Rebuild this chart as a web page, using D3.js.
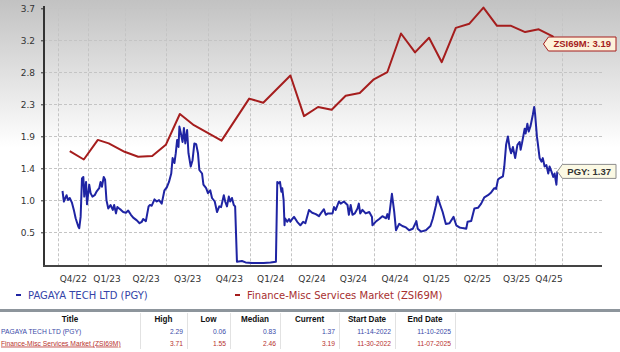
<!DOCTYPE html>
<html>
<head>
<meta charset="utf-8">
<script src="https://cdn.jsdelivr.net/npm/d3@7"></script>
<style>
  body { margin: 0; background: #fff; }
  svg  { display: block; font-family: "DejaVu Sans", Verdana, sans-serif; }
</style>
</head>
<body>
<svg width="620" height="352"></svg>
<script>
// PGY daily closes
const pgyPoints = [
  ["2022-11-14",1.09],["2022-11-17",0.94],["2022-11-23",1.03],["2022-11-26",0.96],["2022-11-30",0.99],
  ["2022-12-05",0.92],["2022-12-09",0.82],["2022-12-13",0.70],["2022-12-19",0.58],["2022-12-21",0.56],
  ["2022-12-24",0.72],["2022-12-27",1.27],["2022-12-30",1.29],["2023-01-01",1.01],["2023-01-05",1.22],
  ["2023-01-07",0.90],["2023-01-12",1.18],["2023-01-15",1.06],["2023-01-19",1.01],["2023-01-24",1.03],
  ["2023-01-28",1.08],["2023-02-03",1.13],["2023-02-06",1.22],["2023-02-09",1.15],["2023-02-13",1.29],
  ["2023-02-16",1.25],["2023-02-19",0.96],["2023-02-23",0.84],["2023-02-28",0.89],["2023-03-05",0.82],
  ["2023-03-08",0.89],["2023-03-12",0.77],["2023-03-15",0.86],["2023-03-19",0.84],["2023-03-23",0.82],
  ["2023-03-28",0.79],["2023-04-03",0.78],["2023-04-08",0.81],["2023-04-14",0.75],["2023-04-19",0.71],
  ["2023-04-27",0.67],["2023-05-03",0.63],["2023-05-08",0.65],["2023-05-11",0.69],["2023-05-17",0.66],
  ["2023-05-23",0.87],["2023-05-26",0.89],["2023-05-30",0.88],["2023-06-05",0.97],["2023-06-10",0.94],
  ["2023-06-15",0.96],["2023-06-21",0.91],["2023-06-27",1.10],["2023-07-02",1.14],["2023-07-07",1.22],
  ["2023-07-12",1.34],["2023-07-15",1.56],["2023-07-19",1.49],["2023-07-22",1.63],["2023-07-25",1.82],
  ["2023-07-28",1.72],["2023-07-30",2.01],["2023-08-03",1.89],["2023-08-06",1.79],["2023-08-09",1.99],
  ["2023-08-12",1.77],["2023-08-16",1.96],["2023-08-19",1.63],["2023-08-24",1.44],["2023-08-28",1.53],
  ["2023-09-01",1.77],["2023-09-05",1.76],["2023-09-09",1.63],["2023-09-12",1.39],["2023-09-18",1.34],
  ["2023-09-21",1.18],["2023-09-27",1.13],["2023-10-01",1.06],["2023-10-06",1.10],["2023-10-10",0.99],
  ["2023-10-16",0.94],["2023-10-21",0.79],["2023-10-26",0.87],["2023-10-30",0.86],["2023-11-05",1.03],
  ["2023-11-08",0.94],["2023-11-12",0.87],["2023-11-16",1.01],["2023-11-19",0.94],["2023-11-23",0.99],
  ["2023-11-27",0.89],["2023-11-30",0.87],["2023-12-04",0.08],["2023-12-15",0.09],["2023-12-23",0.07],
  ["2024-01-06",0.06],["2024-01-18",0.06],["2024-02-01",0.06],["2024-02-16",0.07],["2024-02-28",0.08],
  ["2024-03-02",1.22],["2024-03-05",1.20],["2024-03-08",1.22],["2024-03-11",1.08],["2024-03-13",1.13],
  ["2024-03-16",0.96],["2024-03-18",0.60],["2024-03-19",0.70],["2024-03-24",0.65],["2024-03-28",0.69],
  ["2024-03-31",0.65],["2024-04-04",0.69],["2024-04-08",0.72],["2024-04-15",0.65],["2024-04-22",0.60],
  ["2024-04-28",0.65],["2024-05-03",0.63],["2024-05-11",0.82],["2024-05-18",0.78],["2024-05-26",0.76],
  ["2024-06-02",0.73],["2024-06-06",0.77],["2024-06-13",0.83],["2024-06-17",0.75],["2024-06-22",0.77],
  ["2024-07-02",0.77],["2024-07-05",0.86],["2024-07-09",0.82],["2024-07-16",0.94],["2024-07-20",0.91],
  ["2024-07-27",0.94],["2024-08-04",0.89],["2024-08-07",0.75],["2024-08-11",0.89],["2024-08-15",0.75],
  ["2024-08-20",0.77],["2024-08-26",0.84],["2024-08-29",0.91],["2024-09-01",0.77],["2024-09-06",0.82],
  ["2024-09-13",0.77],["2024-09-21",0.79],["2024-09-27",0.72],["2024-09-28",0.60],["2024-10-05",0.65],
  ["2024-10-13",0.69],["2024-10-20",0.73],["2024-10-28",0.70],["2024-10-31",0.76],["2024-11-03",0.69],
  ["2024-11-10",1.05],["2024-11-15",0.80],["2024-11-19",0.53],["2024-11-26",0.62],["2024-12-03",0.59],
  ["2024-12-11",0.57],["2024-12-18",0.53],["2024-12-26",0.55],["2025-01-03",0.66],["2025-01-06",0.55],
  ["2025-01-13",0.51],["2025-01-24",0.53],["2025-02-03",0.59],["2025-02-08",0.69],["2025-02-11",0.77],
  ["2025-02-15",0.88],["2025-02-19",1.01],["2025-02-23",0.92],["2025-03-02",0.79],["2025-03-09",0.62],
  ["2025-03-17",0.63],["2025-03-26",0.72],["2025-04-01",0.60],["2025-04-08",0.57],["2025-04-15",0.56],
  ["2025-04-23",0.55],["2025-04-26",0.65],["2025-05-04",0.66],["2025-05-11",0.84],["2025-05-19",0.85],
  ["2025-05-26",0.91],["2025-06-02",1.00],["2025-06-10",1.03],["2025-06-17",1.07],["2025-06-24",1.13],
  ["2025-06-28",1.12],["2025-07-02",1.25],["2025-07-05",1.27],["2025-07-13",1.30],["2025-07-16",1.44],
  ["2025-07-20",1.75],["2025-07-24",1.87],["2025-07-28",1.70],["2025-07-31",1.63],["2025-08-04",1.72],
  ["2025-08-09",1.56],["2025-08-14",1.75],["2025-08-19",1.79],["2025-08-21",1.68],["2025-08-24",1.77],
  ["2025-08-30",1.98],["2025-09-01",1.91],["2025-09-05",2.05],["2025-09-08",1.94],["2025-09-12",2.02],
  ["2025-09-17",2.18],["2025-09-20",2.29],["2025-09-22",2.19],["2025-09-26",1.87],["2025-09-28",1.77],
  ["2025-10-02",1.56],["2025-10-06",1.51],["2025-10-09",1.56],["2025-10-13",1.44],["2025-10-17",1.46],
  ["2025-10-21",1.34],["2025-10-24",1.44],["2025-10-28",1.37],["2025-11-01",1.29],["2025-11-04",1.34],
  ["2025-11-08",1.18],["2025-11-10",1.37]
];

// ZSI69M monthly values
const zsiPoints = [
  ["2022-11-30",1.66],["2022-12-31",1.54],["2023-01-31",1.82],["2023-02-24",1.77],["2023-03-31",1.65],
  ["2023-04-30",1.58],["2023-05-31",1.59],["2023-06-30",1.75],["2023-07-31",2.19],["2023-08-31",2.03],
  ["2023-10-31",1.81],["2023-12-31",2.41],["2024-01-31",2.35],["2024-03-31",2.74],["2024-04-30",2.16],
  ["2024-05-31",2.29],["2024-06-30",2.25],["2024-07-31",2.45],["2024-08-31",2.49],["2024-09-30",2.68],
  ["2024-10-31",2.79],["2024-11-30",3.34],["2024-12-31",3.07],["2025-01-31",3.28],["2025-02-28",2.93],
  ["2025-03-31",3.42],["2025-04-30",3.48],["2025-05-31",3.71],["2025-06-30",3.45],["2025-07-31",3.45],
  ["2025-08-31",3.36],["2025-09-30",3.40],["2025-10-31",3.30],["2025-11-07",3.19]
];

const yTicks        = [0.5, 0.9571, 1.4143, 1.8714, 2.3286, 2.7857, 3.2429, 3.7];
const quarterLines  = ["2022-11-04","2023-01-09","2023-04-01","2023-07-01","2023-10-01","2024-01-01","2024-04-01",
                       "2024-07-01","2024-10-01","2025-01-01","2025-04-01","2025-07-01","2025-09-21","2025-11-21"];
const quarterLabels = ["Q4/22","Q1/23","Q2/23","Q3/23","Q4/23","Q1/24","Q2/24","Q3/24","Q4/24","Q1/25","Q2/25","Q3/25","Q4/25"];

const seriesNames = ["PAGAYA TECH LTD (PGY)", "Finance-Misc Services Market (ZSI69M)"];
const tagNames    = ["PGY", "ZSI69M"];

const tableHeaders = ["Title","High","Low","Median","Current","Start Date","End Date"];
const tableRows = [
  ["PAGAYA TECH LTD (PGY)","2.29","0.06","0.83","1.37","11-14-2022","11-10-2025"],
  ["Finance-Misc Services Market (ZSI69M)","3.71","1.55","2.46","3.19","11-30-2022","11-07-2025"]
];

const BLUE = "#1f24a3", RED = "#a51d1d";
const M = {left: 44, right: 602, top: 6, bottom: 266};

const svg   = d3.select("svg");
const parse = d3.timeParse("%Y-%m-%d");
const pgy = pgyPoints.map(p => ({date: parse(p[0]), value: p[1]}));
const zsi = zsiPoints.map(p => ({date: parse(p[0]), value: p[1]}));

const x = d3.scaleTime()
  .domain([parse("2022-11-14"), parse("2025-11-10")])
  .range([62.5, 557.3]);
const y = d3.scaleLinear()
  .domain([0.0186, 3.7329])
  .range([M.bottom, M.top]);

drawBackground();
drawGrid();
drawAxes();
drawLines();
drawTag(tagNames[1], zsi[zsi.length-1].value, RED, "#fdf2da", RED);
drawTag(tagNames[0], pgy[pgy.length-1].value, "#333", "#fbf9e4", "#8c8c8c");
drawLegend();
drawTable();

function drawBackground() {
  const grad = svg.append("defs").append("linearGradient")
    .attr("id", "bg").attr("x1", 0).attr("y1", 0).attr("x2", 0).attr("y2", 1);
  grad.append("stop").attr("offset", "0%").attr("stop-color", "#c2c2c2");
  grad.append("stop").attr("offset", "55%").attr("stop-color", "#ffffff");
  svg.append("rect").attr("width", 620).attr("height", 268).attr("fill", "url(#bg)");
}

function drawGrid() {
  const g = svg.append("g")
    .attr("stroke", "#c4c4c4").attr("stroke-dasharray", "3,2").attr("stroke-width", 1);
  g.selectAll("line.h").data(yTicks).join("line").attr("class", "h")
    .attr("x1", M.left).attr("x2", M.right)
    .attr("y1", d => Math.round(y(d)) + 0.5).attr("y2", d => Math.round(y(d)) + 0.5);
  g.selectAll("line.v").data(quarterLines).join("line").attr("class", "v")
    .attr("x1", d => Math.round(x(parse(d))) + 0.5).attr("x2", d => Math.round(x(parse(d))) + 0.5)
    .attr("y1", y(3.7)).attr("y2", M.bottom);
}

function drawAxes() {
  const yAxis = d3.axisLeft(y).tickValues(yTicks).tickFormat(d3.format(".1f"))
    .tickSize(3).tickPadding(6);
  const gy = svg.append("g").attr("transform", `translate(${M.left},0)`).call(yAxis);
  gy.select(".domain").remove();
  gy.selectAll("line").attr("stroke", "#333");
  gy.selectAll("text").attr("font-size", 9).attr("fill", "#333")
    .attr("font-family", "DejaVu Sans, Verdana, sans-serif");

  // quarter labels sit in the middle of each grid interval
  const mids = quarterLabels.map((q, i) =>
    new Date((parse(quarterLines[i]).getTime() + parse(quarterLines[i+1]).getTime()) / 2));
  const xAxis = d3.axisBottom(x).tickValues(mids).tickFormat((d, i) => quarterLabels[i])
    .tickSize(0).tickPadding(10);
  const gx = svg.append("g").attr("transform", `translate(0,${M.bottom})`).call(xAxis);
  gx.select(".domain").remove();
  gx.selectAll("text").attr("font-size", 9).attr("fill", "#333")
    .attr("font-family", "DejaVu Sans, Verdana, sans-serif");

  svg.append("line").attr("x1", M.left).attr("x2", M.left).attr("y1", M.top).attr("y2", M.bottom + 1)
    .attr("stroke", "#333").attr("stroke-width", 2);
  svg.append("line").attr("x1", M.left - 1).attr("x2", M.right).attr("y1", M.bottom).attr("y2", M.bottom)
    .attr("stroke", "#444").attr("stroke-width", 2);
}

function drawLines() {
  const line = d3.line().x(d => x(d.date)).y(d => y(d.value));
  svg.append("path").datum(zsi).attr("d", line)
    .attr("fill", "none").attr("stroke", RED).attr("stroke-width", 2).attr("stroke-linejoin", "round");
  svg.append("path").datum(pgy).attr("d", line)
    .attr("fill", "none").attr("stroke", BLUE).attr("stroke-width", 2).attr("stroke-linejoin", "round");
}

function drawTag(name, value, textColor, fill, stroke) {
  const cy = y(value), right = 616, h = 14, tip = 5;
  const g = svg.append("g");
  const path = g.append("path");
  const t = g.append("text")
    .attr("y", cy).attr("dy", "0.35em")
    .attr("font-family", "Liberation Sans, Arial, sans-serif")
    .attr("font-size", 9.5).attr("font-weight", "bold").attr("fill", textColor)
    .text(`${name}: ${d3.format(".2f")(value)}`);
  const w = t.node().getComputedTextLength() + 10;
  const left = right - w;
  t.attr("x", left + 5);
  path.attr("d", `M${left - tip},${cy} L${left},${cy - h/2} H${right} V${cy + h/2} H${left} Z`)
    .attr("fill", fill).attr("stroke", stroke).attr("stroke-width", 1);
}

function drawLegend() {
  const items = [{name: seriesNames[0], color: BLUE, text: "#3444a8", x: 16},
                 {name: seriesNames[1], color: RED,  text: "#a83030", x: 235}];
  const g = svg.append("g").selectAll("g").data(items).join("g");
  g.append("rect").attr("x", d => d.x).attr("y", 294).attr("width", 5).attr("height", 2).attr("fill", d => d.color);
  g.append("text").attr("x", d => d.x + 12).attr("y", 295).attr("dy", "0.35em")
    .attr("font-size", 10).attr("fill", d => d.text).text(d => d.name);
}

function drawTable() {
  const edges = [0, 140, 187, 230, 280, 339, 395, 455];
  const SQ = 0.84; // narrow look of the table font
  const g = svg.append("g").attr("font-family", "Liberation Sans, Arial, sans-serif");
  g.append("rect").attr("x", 0).attr("y", 309).attr("width", 620).attr("height", 3).attr("fill", "#8d959c");
  g.selectAll("line.sep").data(edges.slice(1)).join("line").attr("class", "sep")
    .attr("x1", d => d + 0.5).attr("x2", d => d + 0.5).attr("y1", 313).attr("y2", 349)
    .attr("stroke", "#e2e2e2");
  g.selectAll("text.head").data(tableHeaders).join("text").attr("class", "head")
    .attr("transform", (d, i) => `translate(${(edges[i] + edges[i+1]) / 2},322) scale(0.9,1)`)
    .attr("text-anchor", "middle").attr("font-size", 9).attr("font-weight", "bold").attr("fill", "#111")
    .text(d => d);
  const rowColor = ["#3a4aa8", "#b8322e"];
  tableRows.forEach((row, r) => {
    const ry = 334 + r * 11.5;
    g.selectAll(`text.r${r}`).data(row).join("text").attr("class", `r${r}`)
      .attr("transform", (d, i) => `translate(${i === 0 ? 1 : edges[i+1] - 4},${ry}) scale(${SQ},1)`)
      .attr("text-anchor", (d, i) => i === 0 ? "start" : "end")
      .attr("font-size", 8).attr("fill", rowColor[r])
      .attr("text-decoration", (d, i) => (r === 1 && i === 0) ? "underline" : null)
      .text(d => d);
  });
}
</script>
</body>
</html>
